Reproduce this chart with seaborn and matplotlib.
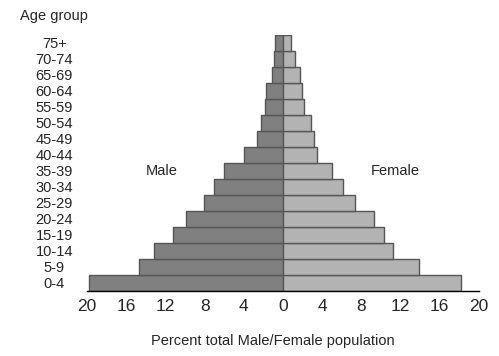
import numpy as np
import pandas as pd
import seaborn as sns
import matplotlib.pyplot as plt

# ------------------------------
# Data (percent of total male / female population)
# ------------------------------
age_groups = ["0-4", "5-9", "10-14", "15-19", "20-24", "25-29", "30-34", "35-39",
              "40-44", "45-49", "50-54", "55-59", "60-64", "65-69", "70-74", "75+"]
male = [19.8, 14.7, 13.2, 11.2, 9.9, 8.1, 7.0, 6.0,
        4.0, 2.7, 2.2, 1.8, 1.7, 1.1, 0.9, 0.8]
female = [18.2, 13.9, 11.2, 10.3, 9.3, 7.3, 6.1, 5.0,
          3.5, 3.2, 2.9, 2.1, 1.9, 1.7, 1.2, 0.8]
x_ticks = [-20, -16, -12, -8, -4, 0, 4, 8, 12, 16, 20]
x_tick_labels = ["20", "16", "12", "8", "4", "0", "4", "8", "12", "16", "20"]

df = pd.DataFrame({"age": age_groups, "male": male, "female": female})
df["pos"] = np.arange(len(df))

# ------------------------------
# Plot
# ------------------------------
sns.set_style("white")
plt.rcParams["font.family"] = ["Liberation Sans", "DejaVu Sans"]

fig = plt.figure(figsize=(4.99, 3.56), dpi=100)
ax = fig.add_axes([87 / 499, 1 - 291 / 356, 392 / 499, 256 / 356])

edge = "#555555"
ax.barh(df["pos"], -df["male"], height=1.0, color="#808080", edgecolor=edge, linewidth=1)
ax.barh(df["pos"], df["female"], height=1.0, color="#b3b3b3", edgecolor=edge, linewidth=1)

ax.set_xlim(-20, 20)
ax.set_ylim(-0.5, len(df) - 0.5)

ax.set_xticks(x_ticks)
ax.set_xticklabels(x_tick_labels, fontsize=12.5)
ax.tick_params(axis="x", direction="out", length=4, width=1, color="black", pad=2)
# the end ticks cross the axis line
ax.set_xticks([x_ticks[0], x_ticks[-1]], minor=True)
ax.tick_params(axis="x", which="minor", direction="inout", length=10, width=1, color="black")

ax.set_yticks(df["pos"])
ax.set_yticklabels(df["age"], fontsize=10.5, ha="center")
ax.tick_params(axis="y", length=0, pad=23.5)

sns.despine(ax=ax, left=True, top=True, right=True)
ax.spines["bottom"].set_color("black")
ax.spines["bottom"].set_linewidth(1)

ax.text(-12.4, 7, "Male", fontsize=10.5, ha="center", va="center")
ax.text(11.5, 7, "Female", fontsize=10.5, ha="center", va="center")

fig.text(273 / 499, 1 - 341 / 356, "Percent total Male/Female population",
         fontsize=10.5, ha="center", va="center")
fig.text(20 / 499, 1 - 16 / 356, "Age group", fontsize=10.5, ha="left", va="center")

plt.savefig("out.png", dpi=100)
